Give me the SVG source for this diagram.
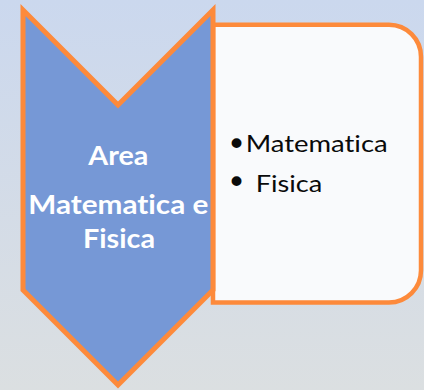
<svg xmlns="http://www.w3.org/2000/svg" width="424" height="390" viewBox="0 0 424 390">
  <defs>
    <linearGradient id="bg" x1="0" y1="0" x2="0" y2="1">
      <stop offset="0" stop-color="#cbd8ee"/>
      <stop offset="1" stop-color="#dbdfe1"/>
    </linearGradient>
  </defs>
  <style>
    .shape { stroke: #fd8a3b; stroke-linejoin: miter; }
    text { font-variant-ligatures: none; }
    .title { font-family: Lato, "Liberation Sans", sans-serif; font-weight: bold; font-size: 27px; fill: #ffffff; text-anchor: middle; }
    .item { font-family: Lato, "Liberation Sans", sans-serif; font-size: 24px; fill: #0a0a0a; }
    .bullet { font-family: "DejaVu Sans", sans-serif; font-size: 34px; fill: #0a0a0a; }
  </style>
  <rect x="0" y="0" width="424" height="390" fill="url(#bg)"/>
  <g id="content">
    <path class="shape" d="M213,24.7 H389 A32,32 0 0 1 421,56.7 V270.5 A32,32 0 0 1 389,302.5 H213 Z" fill="#f9fafc" stroke-width="4.5"/>
    <text class="bullet" x="226.5" y="156">•</text>
    <text class="item" x="245.7" y="151.7" textLength="142" lengthAdjust="spacingAndGlyphs">Matematica</text>
    <text class="bullet" x="226.5" y="193.7">•</text>
    <text class="item" x="255.7" y="191.7" textLength="66.6" lengthAdjust="spacingAndGlyphs">Fisica</text>
  </g>
  <g id="chevron">
    <path class="shape" d="M23,10 L118,105 L213,10 L213,290 L118,385 L23,290 Z" fill="#7698d6" stroke-width="5"/>
    <text class="title" x="118.3" y="165" textLength="60" lengthAdjust="spacingAndGlyphs">Area</text>
    <text class="title" x="118.3" y="214" textLength="180" lengthAdjust="spacingAndGlyphs">Matematica e</text>
    <text class="title" x="119" y="248.3" textLength="72" lengthAdjust="spacingAndGlyphs">Fisica</text>
  </g>
</svg>
